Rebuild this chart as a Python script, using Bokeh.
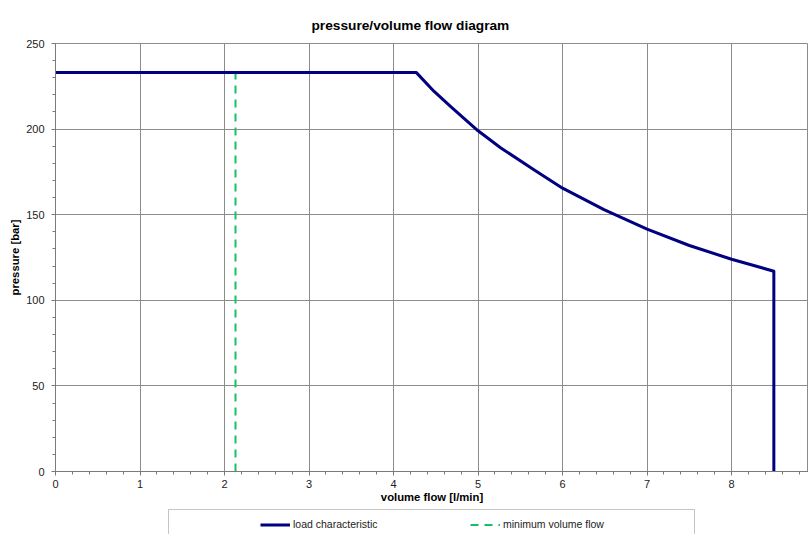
from bokeh.plotting import figure
from bokeh.models import (Range1d, SingleIntervalTicker, Legend, LegendItem, Title)
from bokeh.layouts import column
from bokeh.embed import file_html
from bokeh.resources import INLINE

# data
flow = [0.0, 4.27, 4.48, 4.68, 5.0, 5.27, 5.67, 6.0, 6.49, 7.0, 7.5, 8.0, 8.5, 8.5]
pressure = [233, 233, 222, 213, 199, 189, 176, 165.5, 153, 141.6, 132, 124, 117, 0]
min_flow = [2.13, 2.13]
min_pressure = [0, 233]

title_text = "pressure/volume flow diagram"
x_label = "volume flow [l/min]"
y_label = "pressure [bar]"
series_names = ["load characteristic", "minimum volume flow"]

FONT = "Liberation Sans"
NAVY = "#000080"
GREEN = "#14c264"
GRID = "#8c8c8c"
AXIS = "#7a7a7a"

p = figure(width=808, height=506, output_backend="svg", toolbar_location=None,
           x_range=Range1d(0, 8.91), y_range=Range1d(0, 250),
           min_border_left=55, min_border_right=0, min_border_top=43, min_border_bottom=35)
t = Title(text=title_text, align="left", offset=256, text_font=FONT,
          text_font_size="13.7px", text_font_style="bold", text_color="#000000", standoff=22)
p.add_layout(t, "above")

p.outline_line_color = GRID
p.background_fill_color = "white"
p.border_fill_color = "white"

p.xaxis.ticker = SingleIntervalTicker(interval=1, num_minor_ticks=5)
p.yaxis.ticker = SingleIntervalTicker(interval=50, num_minor_ticks=5)
for ax in (p.xaxis, p.yaxis):
    ax.axis_line_color = AXIS
    ax.major_tick_line_color = AXIS
    ax.minor_tick_line_color = AXIS
    ax.major_tick_in = 0
    ax.minor_tick_in = 0
    ax.major_tick_out = 4
    ax.minor_tick_out = 3
    ax.major_label_text_font = FONT
    ax.major_label_text_font_size = "11px"
    ax.major_label_text_color = "#222222"
    ax.axis_label_text_font = FONT
    ax.axis_label_text_font_size = "11.3px"
    ax.axis_label_text_font_style = "bold"
    ax.axis_label_text_color = "#000000"
p.xaxis.axis_label = x_label
p.yaxis.axis_label = y_label
p.xaxis.major_label_standoff = 4
p.yaxis.major_label_standoff = 7
p.xaxis.axis_label_standoff = 0
p.yaxis.axis_label_standoff = 2

p.xgrid.grid_line_color = GRID
p.ygrid.grid_line_color = GRID

r_min = p.line(min_flow, min_pressure, line_color=GREEN, line_width=2, line_dash="8 6")
r_load = p.line(flow, pressure, line_color=NAVY, line_width=3, line_join="round")

# legend strip below the chart (its ranges keep the series out of view)
q = figure(width=808, height=28, output_backend="svg", toolbar_location=None,
           x_range=Range1d(-20, -10), y_range=Range1d(-20, -10), min_border=0,
           x_axis_location=None, y_axis_location=None)
q.grid.visible = False
q.outline_line_color = None
q.background_fill_color = "white"
q.border_fill_color = "white"

l_dummy = q.line(flow, pressure, line_alpha=0)
l_load = q.line(flow, pressure, line_color=NAVY, line_width=3)
l_min = q.line(min_flow, min_pressure, line_color=GREEN, line_width=2, line_dash="8 6")

box = Legend(items=[LegendItem(label=" ", renderers=[l_dummy])],
             location=(113, -17), orientation="horizontal",
             padding=0, spacing=0, glyph_width=1, glyph_height=40,
             label_standoff=0, label_width=524, label_height=20,
             border_line_color="#8c8c8c", border_line_width=1,
             background_fill_color="white", background_fill_alpha=1,
             label_text_font_size="11px")
q.add_layout(box)

leg = Legend(items=[LegendItem(label=series_names[0], renderers=[l_load]),
                    LegendItem(label=series_names[1], renderers=[l_min])],
             location=(205, 3.5), orientation="horizontal",
             padding=0, spacing=77, glyph_width=30, glyph_height=13,
             label_standoff=3, label_width=100, label_height=13,
             border_line_alpha=0, background_fill_alpha=0,
             label_text_font=FONT, label_text_font_size="10.5px",
             label_text_color="#222222")
q.add_layout(leg)

layout = column(p, q, spacing=0)
open("out.html", "w").write(file_html(layout, INLINE))
